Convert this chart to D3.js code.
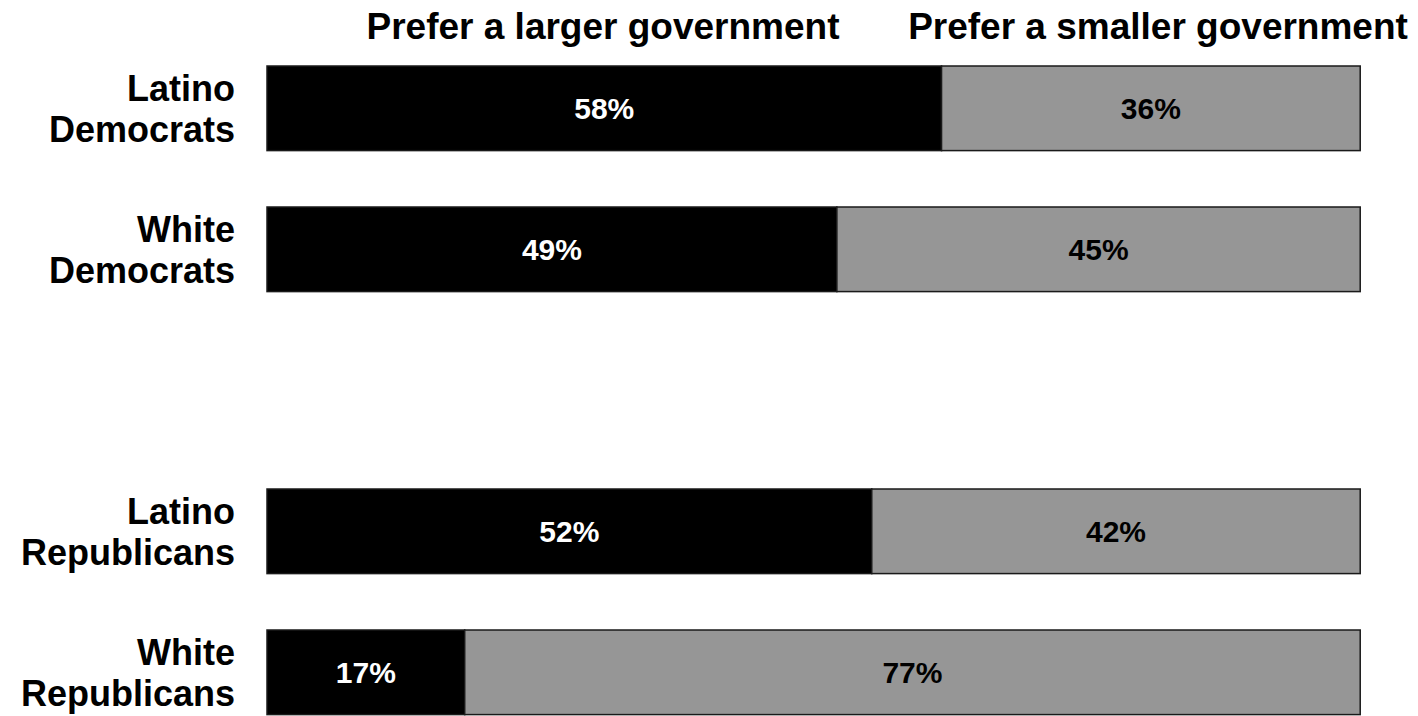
<!DOCTYPE html>
<html>
<head>
<meta charset="utf-8">
<script src="https://cdn.jsdelivr.net/npm/d3@7"></script>
<style>
  html, body { margin: 0; padding: 0; background: #fff; }
  svg { display: block; font-family: "Liberation Sans", Arial, sans-serif; font-weight: bold; }
</style>
</head>
<body>
<svg id="chart" width="1418" height="716"></svg>
<script>
// ---- data ----
const categories = ["Latino Democrats", "White Democrats", "", "Latino Republicans", "White Republicans"];
const seriesNames = ["Prefer a larger government", "Prefer a smaller government"];
const largerGov  = [58, 49, null, 52, 17];
const smallerGov = [36, 45, null, 42, 77];

// ---- layout ----
const svg = d3.select("#chart");
const x = d3.scaleLinear().domain([0, 100]).range([267, 1430]);
const y = d3.scaleBand().domain(categories).range([37.8, 742.8]).paddingInner(0.4).paddingOuter(0.2);
const colors = ["#000000", "#969696"];
const textColors = ["#ffffff", "#000000"];
const headerX = [603, 1158];

const rows = categories.map((c, i) => ({cat: c, vals: [largerGov[i], smallerGov[i]]}))
  .filter(d => d.vals[0] != null);

const stack = rows.map(r => {
  let acc = 0;
  return r.vals.map((v, k) => { const s = {cat: r.cat, k, v, x0: acc, x1: acc + v}; acc += v; return s; });
});

const g = svg.append("g");
stack.forEach(segs => {
  segs.forEach(s => {
    g.append("rect")
      .attr("x", x(s.x0)).attr("y", y(s.cat))
      .attr("width", x(s.x1) - x(s.x0)).attr("height", y.bandwidth())
      .attr("fill", colors[s.k]).attr("stroke", "#1a1a1a").attr("stroke-width", 1.5);
    g.append("text")
      .attr("x", (x(s.x0) + x(s.x1)) / 2)
      .attr("y", y(s.cat) + y.bandwidth() / 2)
      .attr("dy", "0.36em")
      .attr("text-anchor", "middle")
      .attr("font-size", 30)
      .attr("fill", textColors[s.k])
      .text(s.v + "%");
  });
});

// category labels (two lines, right aligned)
rows.forEach(r => {
  const words = r.cat.split(" ");
  const cy = y(r.cat) + y.bandwidth() / 2;
  const t = svg.append("text")
    .attr("text-anchor", "end")
    .attr("font-size", 36)
    .attr("fill", "#000");
  words.forEach((w, i) => {
    t.append("tspan").attr("x", 235).attr("y", cy - 7 + (i === 0 ? 0 : 41)).text(w);
  });
});

// series headers
seriesNames.forEach((name, k) => {
  svg.append("text")
    .attr("x", headerX[k])
    .attr("y", 39)
    .attr("text-anchor", "middle")
    .attr("font-size", 37)
    .attr("fill", "#000")
    .text(name);
});
</script>
</body>
</html>
